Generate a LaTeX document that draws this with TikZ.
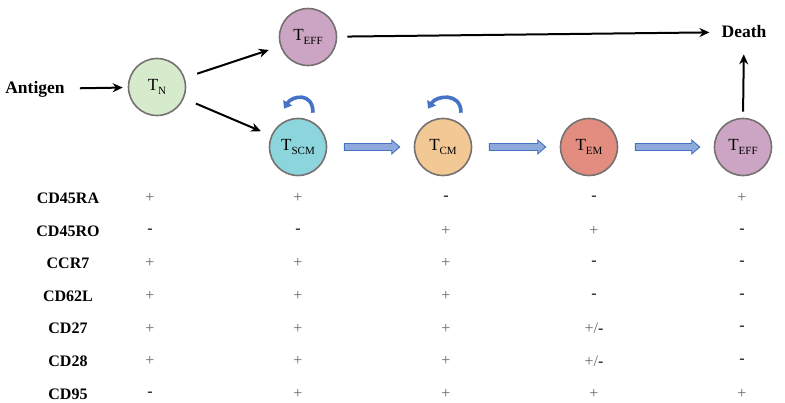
\documentclass[tikz,border=0pt]{standalone}
\usepackage{fontspec}
\setmainfont{Liberation Serif}
\usetikzlibrary{arrows.meta,calc}

\definecolor{naive}{RGB}{214,235,204}
\definecolor{effector}{RGB}{205,165,196}
\definecolor{stemmem}{RGB}{140,213,220}
\definecolor{centmem}{RGB}{242,200,149}
\definecolor{effmem}{RGB}{226,141,128}
\definecolor{rimgray}{RGB}{118,113,113}
\definecolor{flowblue}{RGB}{68,114,196}
\definecolor{flowfill}{RGB}{142,170,219}

\newcommand{\tcell}[1]{T\raisebox{-3.5pt}{\fontsize{11}{12}\selectfont #1}}
\newcommand{\lacks}{\textcolor{black!85}{\bfseries -}}
\newcommand{\plusminus}{+/\lacks}
\newcommand{\fatarrow}[2]{%
  \draw[fatarrow] let \p1=($(#1.east)+(17,0)$), \p2=($(#2.west)+(-14,0)$) in
    (\x1,\y1-3.5pt) -- (\x2-8pt,\y1-3.5pt) -- (\x2-8pt,\y1-7pt) -- (\x2,\y1)
    -- (\x2-8pt,\y1+7pt) -- (\x2-8pt,\y1+3.5pt) -- (\x1,\y1+3.5pt) -- cycle;}

\begin{document}
\begin{tikzpicture}[x=1pt,y=-1pt,
  cell/.style={circle,draw=rimgray,line width=1.6pt,minimum size=57pt,inner sep=0pt,
    font=\fontsize{17}{20}\selectfont},
  word/.style={inner sep=0pt,font=\fontsize{17.5}{20}\selectfont\bfseries},
  arr/.style={-{Stealth[length=10pt,width=9pt]},line width=2pt},
  fatarrow/.style={draw=flowblue,fill=flowfill,line width=0.9pt,line join=miter},
  renew/.style={-{Triangle[length=7pt,width=10pt]},draw=flowblue,line width=3.6pt},
  marker/.style={inner sep=0pt,font=\fontsize{16}{18}\selectfont\bfseries},
  level/.style={inner sep=0pt,text=black!60,font=\fontsize{16}{18}\selectfont}]
  \useasboundingbox (0,0) rectangle (785,402);

  % cells
  \node[word] (antigen) at (35,89) {Antigen};
  \node[cell,fill=naive] (tn) at (157,87) {\tcell{N}};
  \node[cell,fill=effector] (teffa) at (308,37) {\tcell{EFF}};
  \node[cell,fill=stemmem] (tscm) at (298,147) {\tcell{SCM}};
  \node[cell,fill=centmem] (tcm) at (443,147) {\tcell{CM}};
  \node[cell,fill=effmem] (tem) at (589,147) {\tcell{EM}};
  \node[cell,fill=effector] (teffb) at (743,147) {\tcell{EFF}};
  \node[word] (death) at (744,32) {Death};

  % black arrows
  \draw[arr,shorten <=15pt,shorten >=5pt] (antigen) -- (tn);
  \draw[arr,shorten <=13pt,shorten >=12pt] (tn) -- (teffa);
  \draw[arr,shorten <=13pt,shorten >=11pt] (tn) -- (tscm);
  \draw[arr,shorten <=10pt,shorten >=12pt] (teffa) -- (death);
  \draw[arr,shorten <=6pt,shorten >=16pt] (teffb.north) -- (death.south);

  % differentiation
  \fatarrow{tscm}{tcm}
  \fatarrow{tcm}{tem}
  \fatarrow{tem}{teffb}

  % self renewal
  \draw[renew] ([shift={(15,-5)}]tscm.north) .. controls +(0,-21) and +(8,-13) .. ([shift={(-14,-9)}]tscm.north);
  \draw[renew] ([shift={(18,-5)}]tcm.north) .. controls +(0,-21) and +(8,-13) .. ([shift={(-15,-9)}]tcm.north);

  % markers
  \foreach \lab/\a/\b/\c/\d/\e [count=\i] in {CD45RA/+/+/\lacks/\lacks/+,
      CD45RO/\lacks/\lacks/+/+/\lacks,CCR7/+/+/+/\lacks/\lacks,
      CD62L/+/+/+/\lacks/\lacks,CD27/+/+/+/\plusminus/\lacks,
      CD28/+/+/+/\plusminus/\lacks,CD95/\lacks/+/+/+/+} {
    \node[marker] (lab\i) at (68,165.5+32.65*\i) {\lab};
    \node[level] (va\i) at (150,165.5+32.65*\i) {\a};
    \node[level] (vb\i) at (298,165.5+32.65*\i) {\b};
    \node[level] (vc\i) at (446,165.5+32.65*\i) {\c};
    \node[level] (vd\i) at (594,165.5+32.65*\i) {\d};
    \node[level] (ve\i) at (742,165.5+32.65*\i) {\e};
  }
\end{tikzpicture}
\end{document}
